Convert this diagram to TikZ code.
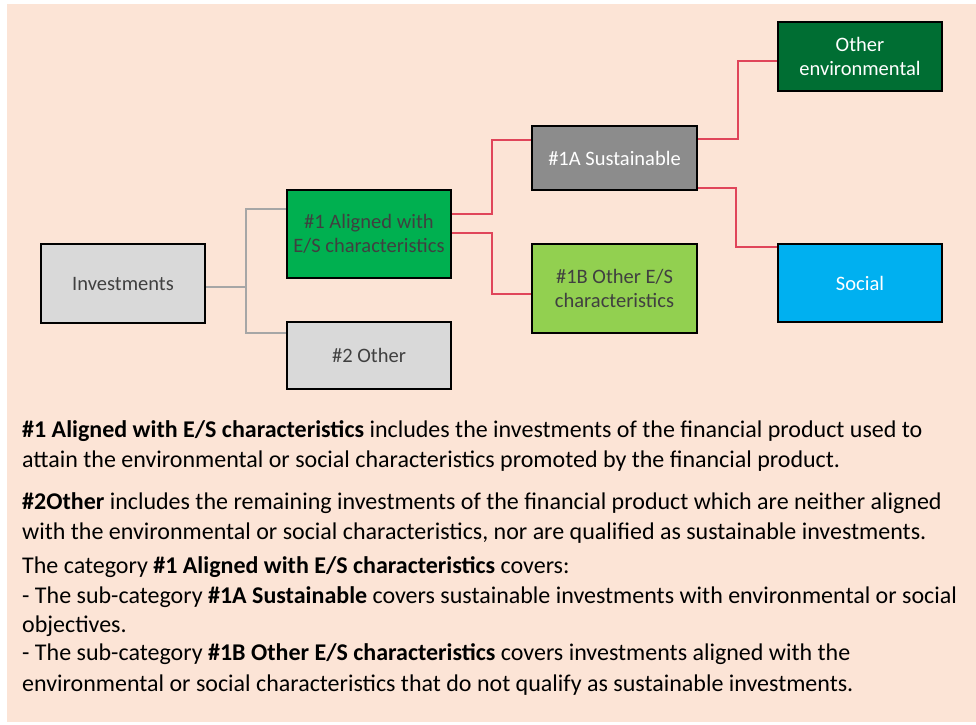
\documentclass[tikz,border=0pt]{standalone}
\usepackage{fontspec}
\setmainfont{Carlito}
\usetikzlibrary{positioning}

\definecolor{peach}{HTML}{FCE4D6}
\definecolor{boxgray}{HTML}{D9D9D9}
\definecolor{midgray}{HTML}{8C8C8C}
\definecolor{txtgray}{HTML}{404040}
\definecolor{esgreen}{HTML}{00B050}
\definecolor{lightgreen}{HTML}{92D050}
\definecolor{darkgreen}{HTML}{006E33}
\definecolor{socialblue}{HTML}{00B0F0}
\definecolor{linkred}{HTML}{E0455A}
\definecolor{linkgray}{HTML}{A6A6A6}

\begin{document}
\begin{tikzpicture}[x=1pt,y=-1pt,
		category/.style={draw=black,line width=2.2pt,minimum width=164pt,align=center,
			text=txtgray,font=\fontsize{20.5}{24.5}\selectfont},
		light/.style={category,fill=boxgray},
		greenbox/.style={category,fill=esgreen},
		whitetext/.style={text=white},
		grayline/.style={linkgray,line width=1.6pt},
		redline/.style={linkred,line width=1.4pt},
		body/.style={anchor=base west,inner sep=0pt,font=\fontsize{24}{29}\selectfont}]

	\useasboundingbox (0,0) rectangle (976,724);
	\fill[peach] (7,4) rectangle (976,722);

	% boxes of the tree
	\node [light, minimum height=79pt] (invest) at (123,283.5) {Investments};
	\node [greenbox, minimum height=88pt] (aligned) at (369,234) {\#1 Aligned with\\E/S characteristics};
	\node [light, minimum height=67pt] (other) at (369,355.5) {\#2 Other};
	\node [category, fill=midgray, whitetext, minimum width=165pt, minimum height=64pt] (sust) at (614.5,158) {\#1A Sustainable};
	\node [category, fill=lightgreen, minimum width=165pt, minimum height=89pt] (otheres) at (614.5,288.5) {\#1B Other E/S\\characteristics};
	\node [category, fill=darkgreen, whitetext, minimum height=69pt] (otherenv) at (860,56.5) {Other\\environmental};
	\node [category, fill=socialblue, whitetext, minimum height=78pt] (social) at (860,283) {Social};

	% links
	\coordinate (fork) at (246,287);
	\draw [grayline] (invest.east|-fork) -- (fork) |- ([yshift=25pt]aligned.west);
	\draw [grayline] (fork) |- ([yshift=22.5pt]other.west);

	\draw [redline] ([yshift=20pt]aligned.east) -- ++(40,0) |- ([yshift=18pt]sust.west);
	\draw [redline] ([yshift=1pt]aligned.east) -- ++(40,0) |- ([yshift=-5.5pt]otheres.west);
	\draw [redline] ([yshift=19pt]sust.east) -- ++(40,0) |- ([yshift=-4.5pt]otherenv.west);
	\draw [redline] ([yshift=-30pt]sust.east) -- ++(38,0) |- ([yshift=36pt]social.west);

	% explanation below
	\node [body] (line1) at (22,437) {\textbf{\#1 Aligned with E/S characteristics} includes the investments of the financial product used to};
	\node [body] (line2) at (22,467) {attain the environmental or social characteristics promoted by the financial product.};
	\node [body] (line3) at (22,509) {\textbf{\#2Other} includes the remaining investments of the financial product which are neither aligned};
	\node [body] (line4) at (22,539) {with the environmental or social characteristics, nor are qualified as sustainable investments.};
	\node [body] (line5) at (22,573) {The category \textbf{\#1 Aligned with E/S characteristics} covers:};
	\node [body] (line6) at (22,603) {- The sub-category \textbf{\#1A Sustainable} covers sustainable investments with environmental or social};
	\node [body] (line7) at (22,632) {objectives.};
	\node [body] (line8) at (22,660) {- The sub-category \textbf{\#1B Other E/S characteristics} covers investments aligned with the};
	\node [body] (line9) at (22,691) {environmental or social characteristics that do not qualify as sustainable investments.};
\end{tikzpicture}
\end{document}
